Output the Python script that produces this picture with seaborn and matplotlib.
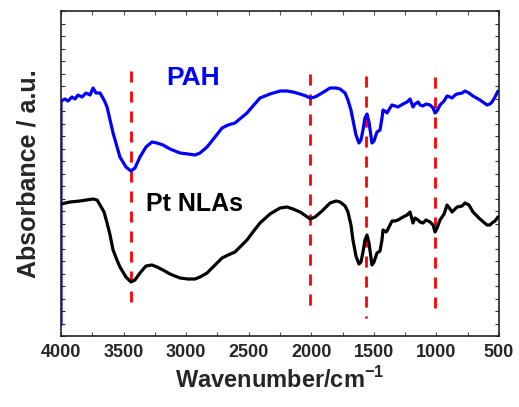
import matplotlib
matplotlib.use("Agg")
import matplotlib.pyplot as plt
import seaborn as sns
import pandas as pd
from matplotlib.ticker import MultipleLocator, NullFormatter

# ---------------- data (arbitrary absorbance units) ----------------
pah_wn = [4000, 4000, 3968, 3944, 3912, 3888, 3864, 3832, 3800, 3768, 3744, 3720, 3688, 3656, 3632,
          3584, 3529, 3481, 3441, 3409, 3369, 3321, 3273, 3233, 3185, 3129, 3049, 2985, 2929, 2889,
          2833, 2769, 2713, 2665, 2610, 2562, 2514, 2466, 2410, 2330, 2250, 2194, 2146, 2090, 2042,
          2010, 1970, 1914, 1850, 1802, 1770, 1730, 1707, 1683, 1667, 1643, 1619, 1603, 1587, 1571,
          1555, 1539, 1515, 1499, 1475, 1451, 1435, 1427, 1403, 1395, 1371, 1355, 1331, 1307, 1267,
          1235, 1211, 1187, 1171, 1147, 1131, 1107, 1083, 1051, 1027, 1011, 995, 971, 939, 915,
          891, 875, 851, 835, 795, 772, 740, 708, 652, 596, 572, 556, 532, 508]
pah_abs = [11, 235, 237, 235, 239, 237, 241, 239, 243, 241, 248, 243, 243, 236, 229,
           203, 179, 169, 165, 168, 179, 189, 194, 193, 191, 187, 183, 182, 181, 183,
           189, 199, 208, 211, 213, 218, 223, 230, 238, 242, 245, 245, 244, 242, 240,
           238, 239, 243, 248, 248, 247, 243, 236, 226, 216, 201, 193, 196, 206, 218,
           222, 214, 193, 195, 204, 206, 218, 226, 224, 223, 228, 231, 230, 229, 232,
           234, 237, 229, 232, 234, 231, 230, 232, 231, 228, 223, 225, 231, 235, 240,
           239, 238, 241, 242, 243, 245, 243, 240, 236, 231, 232, 234, 239, 245]

pt_wn = [4000, 3928, 3848, 3744, 3712, 3688, 3656, 3632, 3608, 3584, 3553, 3529, 3481, 3441, 3409,
         3369, 3321, 3273, 3233, 3185, 3129, 3049, 2985, 2929, 2889, 2833, 2769, 2713, 2665, 2610,
         2562, 2514, 2466, 2410, 2330, 2250, 2194, 2146, 2090, 2042, 2010, 1970, 1914, 1850, 1802,
         1770, 1730, 1707, 1683, 1667, 1643, 1619, 1603, 1587, 1571, 1555, 1539, 1515, 1499, 1475,
         1451, 1435, 1427, 1403, 1395, 1371, 1355, 1331, 1307, 1267, 1235, 1211, 1187, 1171, 1147,
         1131, 1107, 1083, 1051, 1027, 1011, 995, 971, 939, 915, 891, 875, 851, 835, 795,
         772, 740, 708, 652, 596, 572, 556, 532, 508]
pt_abs = [132, 134, 135, 137, 136, 131, 124, 113, 101, 86, 76, 69, 59, 54, 56,
          63, 70, 71, 69, 66, 62, 58, 57, 57, 59, 63, 71, 78, 81, 84,
          90, 96, 104, 113, 122, 128, 129, 127, 124, 120, 117, 119, 125, 133, 135,
          134, 130, 124, 111, 96, 80, 72, 74, 84, 96, 101, 93, 71, 74, 83,
          85, 96, 106, 104, 105, 111, 115, 115, 116, 119, 121, 124, 113, 118, 116,
          114, 113, 116, 114, 111, 104, 108, 116, 122, 131, 127, 124, 127, 129, 130,
          133, 131, 124, 117, 111, 111, 113, 115, 119]

# reference lines (wavenumber, upper, lower)
ref_wn = [3441, 2010, 1565, 1011]
ref_hi = [265, 262, 260, 259]
ref_lo = [34, 30, 18, 28]

labels = ["PAH", "Pt NLAs"]
xticks = [4000, 3500, 3000, 2500, 2000, 1500, 1000, 500]

# ---------------- figure ----------------
sns.set_style("ticks")
plt.rcParams["font.family"] = ["Liberation Sans", "DejaVu Sans"]
plt.rcParams["mathtext.fontset"] = "custom"
plt.rcParams["mathtext.bf"] = "Liberation Sans:bold"
plt.rcParams["mathtext.rm"] = "Liberation Sans"

fig = plt.figure(figsize=(5.19, 4.07), dpi=100)
ax = fig.add_axes([61 / 519, 1 - 336 / 407, 438 / 519, 325 / 407])

df_pah = pd.DataFrame({"wn": pah_wn, "abs": pah_abs})
df_pt = pd.DataFrame({"wn": pt_wn, "abs": pt_abs})

for wn, hi, lo in zip(ref_wn, ref_hi, ref_lo):
    ax.plot([wn, wn], [hi, lo], color="#ff0000", lw=2.0, dashes=(4, 3.2), zorder=1)

sns.lineplot(data=df_pt, x="wn", y="abs", ax=ax, color="black", lw=2.3,
             sort=False, estimator=None, zorder=3)
sns.lineplot(data=df_pah, x="wn", y="abs", ax=ax, color="#0000ff", lw=2.3,
             sort=False, estimator=None, zorder=2)

ax.text(2945, 258, labels[0], color="#0000ff", fontsize=19, fontweight="bold",
        ha="center", va="center")
ax.text(2937, 132, labels[1], color="black", fontsize=18, fontweight="bold",
        ha="center", va="center")

ax.set_xlim(4000, 500)
ax.set_ylim(0, 325)
ax.set_xticks(xticks)
ax.set_xticklabels([str(t) for t in xticks], fontsize=13, fontweight="bold")
ax.xaxis.set_minor_locator(MultipleLocator(250))
ax.yaxis.set_major_locator(MultipleLocator(12.5))
ax.yaxis.set_major_formatter(NullFormatter())

ax.tick_params(axis="x", which="both", direction="in", top=True, bottom=True,
               length=3, width=0.8, color="#555555", pad=6)
ax.tick_params(axis="y", which="both", direction="in", left=True, right=True,
               length=3, width=0.8, color="#333333")

for s in ax.spines.values():
    s.set_linewidth(1.2)
    s.set_color("#222222")

ax.set_xlabel(r"Wavenumber/cm$^{\mathbf{-1}}$", fontsize=17, fontweight="bold", labelpad=4)
ax.set_ylabel("Absorbance / a.u.", fontsize=18, fontweight="bold", labelpad=11)

fig.savefig("out.png", dpi=100)
